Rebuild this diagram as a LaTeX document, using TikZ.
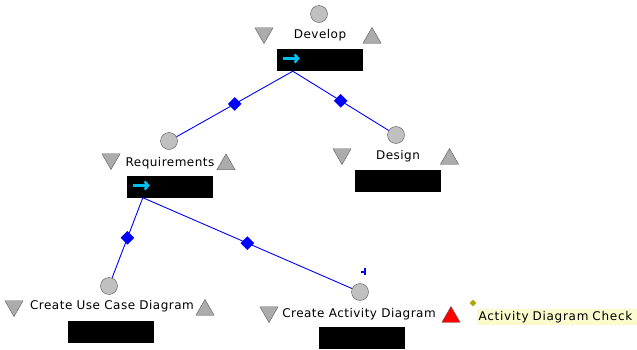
\documentclass[tikz,border=0pt]{standalone}
\usepackage{fontspec}
\newfontfamily\actfont{DejaVu Sans}[LetterSpace=4]
\newfontfamily\notefont{DejaVu Sans}[LetterSpace=6]
\usepackage{xcolor}
\usepackage{tikz}
\usetikzlibrary{shapes.geometric, arrows.meta, positioning}

\definecolor{skyarrow}{RGB}{0,190,240}
\definecolor{portgray}{RGB}{192,192,192}
\definecolor{trigray}{RGB}{172,172,172}
\definecolor{edgegray}{RGB}{85,85,85}
\definecolor{notefill}{RGB}{250,250,205}
\definecolor{noteolive}{RGB}{176,164,0}

\begin{document}
\begin{tikzpicture}[
    x=1pt, y=-1pt,
    every node/.style={font=\actfont\fontsize{12pt}{14pt}\selectfont},
    port/.style={circle, draw=edgegray, fill=portgray, minimum size=17, inner sep=0},
    lbl/.style={anchor=base, inner sep=0},
    bar/.style={fill=black, minimum width=86, minimum height=22, inner sep=0},
    dnmark/.style={regular polygon, regular polygon sides=3, shape border rotate=180,
        draw=edgegray, fill=trigray, minimum size=21, inner sep=0},
    upmark/.style={regular polygon, regular polygon sides=3,
        draw=edgegray, fill=trigray, minimum size=21, inner sep=0},
    goarrow/.style={draw=skyarrow, line width=2.5pt, -{Straight Barb[length=3.5pt, width=8pt]}},
    link/.style={draw=blue, line width=0.9pt},
    joint/.style={diamond, fill=blue, minimum size=14, inner sep=0},
    note/.style={anchor=base west, fill=notefill, text width=157, align=left,
        inner xsep=1.5pt, inner ysep=2pt, font=\notefont\fontsize{12pt}{14pt}\selectfont}
]
\useasboundingbox (0,0) rectangle (637,349);

\node[port] (dev port) at (319,14) {};
\node[lbl] (dev lbl) at (320,38) {Develop};
\node[dnmark] (dev dn) at (264,33) {};
\node[upmark] (dev up) at (372,38) {};
\node[bar] (dev box) at (320,60) {};
\draw[goarrow] ([xshift=6pt,yshift=1.5pt]dev box.west) -- ([xshift=23pt,yshift=1.5pt]dev box.west);

\node[port] (req port) at (169,141) {};
\node[lbl] (req lbl) at (170,166) {Requirements};
\node[dnmark] (req dn) at (111,159) {};
\node[upmark] (req up) at (226,164.5) {};
\node[bar] (req box) at (170,186.5) {};
\draw[goarrow] ([xshift=6pt,yshift=1pt]req box.west) -- ([xshift=23pt,yshift=1pt]req box.west);

\node[port] (des port) at (396,135) {};
\node[lbl] (des lbl) at (398,159) {Design};
\node[dnmark] (des dn) at (342,154) {};
\node[upmark] (des up) at (449.5,159) {};
\node[bar] (des box) at (398,180.5) {};

\node[port] (uc port) at (109,286) {};
\node[lbl] (uc lbl) at (112,309) {Create Use Case Diagram};
\node[dnmark] (uc dn) at (14,306) {};
\node[upmark] (uc up) at (205,310) {};
\node[bar] (uc box) at (111,331.5) {};

\node[port] (act port) at (360,292) {};
\node[lbl] (act lbl) at (359,317) {Create Activity Diagram};
\node[dnmark] (act dn) at (269,312) {};
\node[upmark, fill=red] (act up) at (451,317) {};
\node[bar] (act box) at (362,338) {};

\node[diamond, fill=noteolive, minimum size=7, inner sep=0] (chk dot) at (473,303) {};
\node[note] (chk) at (477,320) {Activity Diagram Check};

\coordinate (dev out) at ([xshift=16pt]dev box.south west);
\coordinate (req out) at ([xshift=16pt]req box.south west);

\draw[link] (dev out) -- node[joint] (dev req j) {} (req port);
\draw[link] (dev out) -- node[joint] (dev des j) {} (des port);
\draw[link] (req out) -- node[joint] (req uc j) {} (uc port);
\draw[link] (req out) -- node[joint] (req act j) {} (act port);
\draw[link, line width=1.2pt] ([shift={(1,-20)}]act port.center) -- ++(4,0) ++(0,-4) -- ++(0,7);
\end{tikzpicture}
\end{document}
